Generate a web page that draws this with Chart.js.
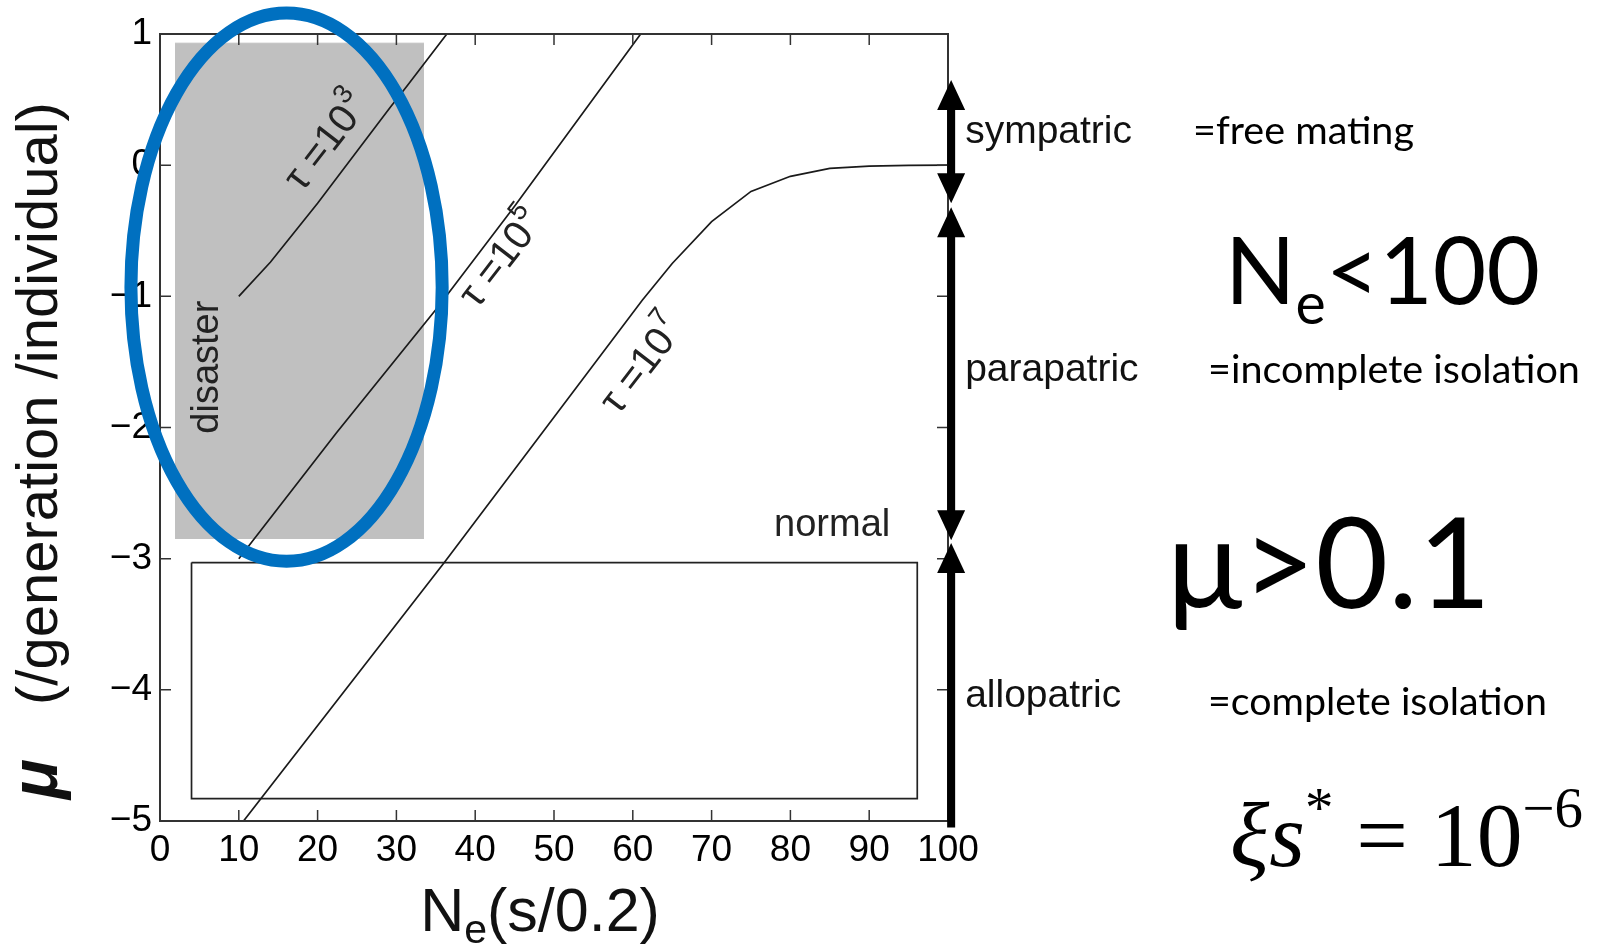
<!DOCTYPE html>
<html lang="en">
<head>
<meta charset="UTF-8" />
<title>Speciation regimes: mu vs Ne(s/0.2)</title>
<script src="https://cdn.jsdelivr.net/npm/chart.js"></script>
<style>
  html, body { margin:0; padding:0; background:#fff; }
</style>
</head>
<body>
<canvas id="chart" width="1601" height="948"></canvas>

<script>
// ---- 1) axes ----
const xTicks = [0, 10, 20, 30, 40, 50, 60, 70, 80, 90, 100];
const yTicks = [-5, -4, -3, -2, -1, 0, 1];
const yTickLabels = ['−5', '−4', '−3', '−2', '−1', '0', '1'];

// ---- 2) tau curves (read off the figure) ----
const tau3X = [10, 14, 20, 29.2, 31.3, 36.4];
const tau3Y = [-1.0, -0.74, -0.29, 0.44, 0.60, 1.0];
const tau5X = [10, 22.4, 35.3, 44.9, 61.0];
const tau5Y = [-3.0, -2.04, -1.08, -0.32, 1.0];
const tau7X = [10.6, 36.2, 61.2, 65, 70, 75, 80, 85, 90, 95, 100];
const tau7Y = [-5.0, -3.02, -1.03, -0.75, -0.43, -0.20, -0.085, -0.025, -0.007, -0.002, 0.0];

// ---- 3) regions ----
const disasterX = [1.9, 33.5];
const disasterTop = 0.93, disasterBottom = -2.85;
const normalX = [4.0, 96.1, 96.1, 4.0, 4.0];
const normalY = [-3.03, -3.03, -4.83, -4.83, -3.03];

// ---- 4) regimes on the right edge ----
const regimeNames  = ['sympatric', 'parapatric', 'allopatric'];
const regimeTop    = [0.65, -0.32, -2.88];
const regimeBottom = [-0.29, -2.86, -5.05];
const regimeBottomHead = [true, true, false];
const regimeLabelY = [0.25, -1.56, -4.05];
const regimeNotes  = ['=free mating', '=incomplete isolation', '=complete isolation'];

// highlighted area (blue ellipse), in data units
const focus = { cx: 16.06, cy: -0.93, rx: 19.75, ry: 2.09 };

const tauLabels = [
  { exp: '3', x: 21.2, y: 0.17 },
  { exp: '5', x: 43.4, y: -0.72 },
  { exp: '7', x: 61.3, y: -1.53 }
];

const pts = (xs, ys) => xs.map((x, i) => ({ x, y: ys[i] }));
const SANS = '"Liberation Sans", Arial, sans-serif';
const NOTE = 'Lato, "Open Sans", sans-serif';
const SERIF = '"Liberation Serif", "DejaVu Serif", serif';

// draw a row of text parts (sub / sup / italic), scaled to a target width
function drawParts(ctx, parts, x, y, size, family, targetW) {
  const fontOf = (p, s) => `${p.it ? 'italic ' : ''}${(p.sub || p.sup) ? s * 0.62 : s}px ${family}`;
  let w = 0;
  parts.forEach(p => { ctx.font = fontOf(p, size); w += ctx.measureText(p.t).width; });
  const s = targetW ? size * targetW / w : size;
  let cx = x;
  parts.forEach(p => {
    ctx.font = fontOf(p, s);
    const dy = p.sub ? s * 0.22 : p.sup ? -s * 0.42 : 0;
    ctx.fillText(p.t, cx, y + dy);
    cx += ctx.measureText(p.t).width;
  });
}

const overlay = {
  id: 'overlay',
  afterDatasetsDraw(chart) {
    const { ctx, chartArea: a, scales: { x, y } } = chart;
    const X = v => x.getPixelForValue(v), Y = v => y.getPixelForValue(v);
    ctx.save();

    // frame + inward ticks
    ctx.strokeStyle = '#333';
    ctx.lineWidth = 2;
    ctx.strokeRect(a.left, a.top, a.right - a.left, a.bottom - a.top);
    ctx.lineWidth = 1.5;
    ctx.beginPath();
    xTicks.slice(1, -1).forEach(v => {
      const px = X(v);
      ctx.moveTo(px, a.bottom); ctx.lineTo(px, a.bottom - 11);
      ctx.moveTo(px, a.top);    ctx.lineTo(px, a.top + 11);
    });
    yTicks.slice(1, -1).forEach(v => {
      const py = Y(v);
      ctx.moveTo(a.left, py);  ctx.lineTo(a.left + 11, py);
      ctx.moveTo(a.right, py); ctx.lineTo(a.right - 11, py);
    });
    ctx.stroke();

    // region labels
    ctx.fillStyle = '#222';
    ctx.font = `38px ${SANS}`;
    ctx.textAlign = 'center';
    ctx.textBaseline = 'middle';
    ctx.fillText('normal', X(85.3), Y(-2.75));
    ctx.save();
    ctx.translate(X(6.0), Y(-1.54));
    ctx.rotate(-Math.PI / 2);
    ctx.fillText('disaster', 0, 0);
    ctx.restore();

    // tau labels along the lines
    const ang = Math.atan2(Y(0.078) - Y(0), X(1) - X(0));
    tauLabels.forEach(l => {
      ctx.save();
      ctx.translate(X(l.x), Y(l.y));
      ctx.rotate(ang);
      ctx.textAlign = 'left';
      ctx.font = `40px ${SANS}`;
      const w1 = ctx.measureText('τ =10').width;
      ctx.font = `27px ${SANS}`;
      const w2 = ctx.measureText(l.exp).width;
      ctx.font = `40px ${SANS}`;
      ctx.fillText('τ =10', -(w1 + w2) / 2, 0);
      ctx.font = `27px ${SANS}`;
      ctx.fillText(l.exp, -(w1 + w2) / 2 + w1 + 1, -16);
      ctx.restore();
    });

    // regime arrows
    const ax = X(100.4), hh = 30, hw = 14;
    ctx.fillStyle = '#000';
    ctx.strokeStyle = '#000';
    regimeNames.forEach((name, i) => {
      const t = Y(regimeTop[i]), b = Y(regimeBottom[i]);
      ctx.lineWidth = 8;
      ctx.beginPath();
      ctx.moveTo(ax, t + hh - 4);
      ctx.lineTo(ax, regimeBottomHead[i] ? b - hh + 4 : b);
      ctx.stroke();
      ctx.beginPath();
      ctx.moveTo(ax, t); ctx.lineTo(ax - hw, t + hh); ctx.lineTo(ax + hw, t + hh); ctx.closePath();
      if (regimeBottomHead[i]) {
        ctx.moveTo(ax, b); ctx.lineTo(ax - hw, b - hh); ctx.lineTo(ax + hw, b - hh); ctx.closePath();
      }
      ctx.fill();
      ctx.textAlign = 'left';
      ctx.textBaseline = 'middle';
      ctx.font = `39px ${SANS}`;
      ctx.fillStyle = '#111';
      ctx.fillText(name, ax + 14, Y(regimeLabelY[i]));
      ctx.fillStyle = '#000';
    });

    // highlight ellipse
    ctx.strokeStyle = '#0070C0';
    ctx.lineWidth = 13;
    ctx.beginPath();
    ctx.ellipse(X(focus.cx), Y(focus.cy), X(focus.cx + focus.rx) - X(focus.cx),
                Y(focus.cy - focus.ry) - Y(focus.cy), 0, 0, 2 * Math.PI);
    ctx.stroke();

    // axis titles
    ctx.fillStyle = '#111';
    ctx.textAlign = 'left';
    ctx.textBaseline = 'alphabetic';
    ctx.font = `61px ${SANS}`;
    const wN = ctx.measureText('N').width;
    const wP = ctx.measureText('(s/0.2)').width;
    ctx.font = `41px ${SANS}`;
    const wE = ctx.measureText('e').width;
    const x0 = 540 - (wN + wE + wP) / 2;
    ctx.font = `61px ${SANS}`;
    ctx.fillText('N', x0, 931);
    ctx.fillText('(s/0.2)', x0 + wN + wE, 931);
    ctx.font = `41px ${SANS}`;
    ctx.fillText('e', x0 + wN, 943);

    ctx.save();
    ctx.translate(57, 799);
    ctx.rotate(-Math.PI / 2);
    ctx.font = `italic bold 66px ${SANS}`;
    ctx.fillText('μ', 0, 0);
    ctx.font = `58px ${SANS}`;
    ctx.fillText('(/generation /individual)', 94, 0);
    ctx.restore();

    // notes on the right
    ctx.fillStyle = '#000';
    ctx.textBaseline = 'alphabetic';
    drawParts(ctx, [{ t: regimeNotes[0] }], 1193, 144, 42, NOTE, 221);
    drawParts(ctx, [{ t: regimeNotes[1] }], 1208, 383, 42, NOTE, 372);
    drawParts(ctx, [{ t: regimeNotes[2] }], 1208, 715, 42, NOTE, 339);
    drawParts(ctx, [{ t: 'N' }, { t: 'e', sub: true }, { t: '<100' }], 1225, 304, 104, NOTE, 315);
    drawParts(ctx, [{ t: 'μ>0.1' }], 1167, 608, 141, NOTE, 324);
    drawParts(ctx, [{ t: 'ξ', it: true }, { t: 's', it: true }, { t: '*', sup: true },
                    { t: ' = 10' }, { t: '−6', sup: true }], 1230, 866, 76, SERIF, 353);
    ctx.restore();
  }
};

new Chart(document.getElementById('chart'), {
  type: 'line',
  data: {
    datasets: [
      { label: 'τ=10^3', data: pts(tau3X, tau3Y), borderColor: '#1a1a1a', borderWidth: 1.7, pointRadius: 0, order: 1 },
      { label: 'τ=10^5', data: pts(tau5X, tau5Y), borderColor: '#1a1a1a', borderWidth: 1.7, pointRadius: 0, order: 1 },
      { label: 'τ=10^7', data: pts(tau7X, tau7Y), borderColor: '#1a1a1a', borderWidth: 1.7, pointRadius: 0, order: 1 },
      { label: 'normal', data: pts(normalX, normalY), borderColor: '#222', borderWidth: 1.7, pointRadius: 0, order: 2 },
      { label: 'disaster', data: pts(disasterX, [disasterTop, disasterTop]), borderColor: '#c0c0c0', borderWidth: 1,
        backgroundColor: '#c0c0c0', fill: { value: disasterBottom }, pointRadius: 0, order: 3 }
    ]
  },
  options: {
    responsive: false,
    animation: false,
    devicePixelRatio: 1,
    layout: { padding: { top: 34, right: 653, left: 0, bottom: 0 } },
    elements: { line: { tension: 0 } },
    plugins: { legend: { display: false }, tooltip: { enabled: false } },
    scales: {
      x: {
        type: 'linear', min: 0, max: 100,
        grid: { display: false, drawTicks: false },
        border: { display: false },
        afterBuildTicks: s => { s.ticks = xTicks.map(v => ({ value: v })); },
        afterFit: s => { s.height = 127; },
        ticks: { padding: 8, maxRotation: 0, autoSkip: false, color: '#000', font: { family: SANS, size: 37 } }
      },
      y: {
        type: 'linear', min: -5, max: 1,
        grid: { display: false, drawTicks: false },
        border: { display: false },
        afterBuildTicks: s => { s.ticks = yTicks.map(v => ({ value: v })); },
        afterFit: s => { s.width = 160; },
        ticks: { padding: 8, autoSkip: false, color: '#000', font: { family: SANS, size: 37 },
                 callback: v => yTickLabels[yTicks.indexOf(v)] }
      }
    }
  },
  plugins: [overlay]
});
</script>
</body>
</html>
